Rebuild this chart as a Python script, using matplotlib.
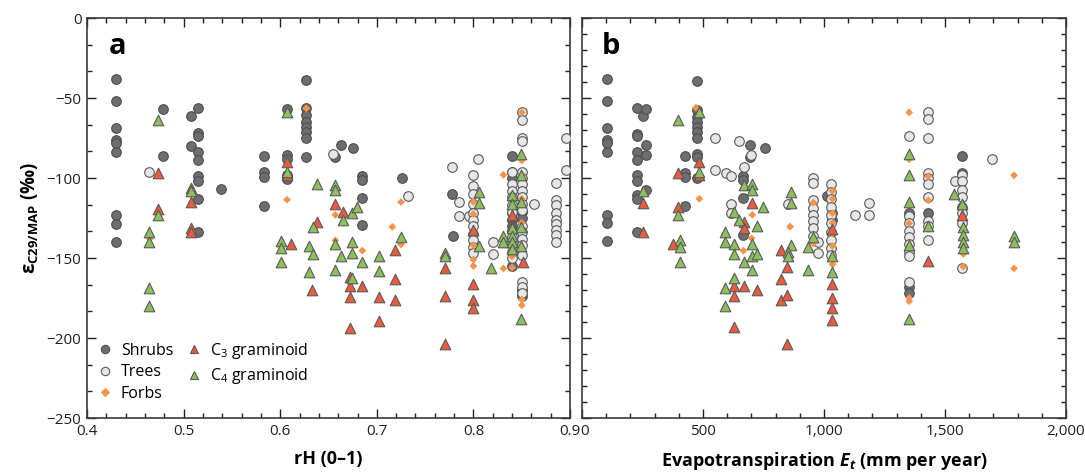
import matplotlib.pyplot as plt
import numpy as np
from matplotlib.ticker import MultipleLocator, FuncFormatter
from matplotlib.lines import Line2D

# fonte parecida com a do artigo
plt.rcParams['font.family'] = ['Open Sans', 'DejaVu Sans']
plt.rcParams['mathtext.fontset'] = 'custom'
plt.rcParams['mathtext.rm'] = 'Open Sans'
plt.rcParams['mathtext.bf'] = 'Open Sans:bold'
plt.rcParams['mathtext.it'] = 'Open Sans:bold:italic'
plt.rcParams['mathtext.default'] = 'regular'

# ---- dados do painel a: (rH, [epsilon ...]) ----
shrubs_a = [(0.43, [-38, -52, -69, -76, -78, -84, -123, -129, -140]),
            (0.479, [-57, -86]), (0.508, [-61, -80]),
            (0.515, [-56.5, -72, -74, -84, -89, -98.5, -102, -113, -134]),
            (0.539, [-107]), (0.583, [-86, -96, -99.6, -117.5]),
            (0.607, [-57, -85.6, -88, -98, -100.6]),
            (0.627, [-39, -56.5, -60.6, -64.8, -68, -71, -75, -87]),
            (0.657, [-87]), (0.663, [-79.6]), (0.675, [-81]),
            (0.685, [-98.5, -101, -112.5, -129.6]), (0.726, [-100]),
            (0.778, [-110]), (0.779, [-136]),
            (0.84, [-86, -96, -100, -122, -126, -130, -155]),
            (0.85, [-121, -125, -170, -174])]
trees_a = [(0.464, [-96]), (0.655, [-85]), (0.732, [-111]), (0.778, [-93]),
           (0.785, [-115, -123.5]), (0.795, [-123.5]), (0.805, [-88]),
           (0.80, [-98, -105, -110, -116, -122, -126, -130, -135, -139, -143, -147]),
           (0.82, [-140, -147.5]),
           (0.84, [-96, -104, -108, -112, -117, -121, -133, -137, -141, -146, -150]),
           (0.85, [-59, -63.5, -75, -77, -96, -100, -104, -108, -112, -116, -120,
                   -130, -134, -138, -142, -148, -165, -168, -172]),
           (0.863, [-116.5]),
           (0.885, [-103, -114, -117, -122, -126, -129, -132.5, -135.6, -140]),
           (0.896, [-75, -95])]
forbs_a = [(0.465, [-138]), (0.607, [-113.5]), (0.627, [-56.5]), (0.657, [-123, -139]),
           (0.685, [-145.4]), (0.716, [-130.5]), (0.725, [-115, -141.5]),
           (0.80, [-115, -122.5, -133.5, -142, -151, -155]), (0.831, [-98, -156.5]),
           (0.84, [-156, -149]), (0.85, [-59, -89, -98, -113, -128, -176, -179.5])]
c3_a = [(0.473, [-96.7, -119.4]), (0.508, [-106.5, -114.8, -131, -134]),
        (0.607, [-90, -98]), (0.611, [-141]), (0.633, [-170]), (0.638, [-127.3]),
        (0.657, [-116]), (0.665, [-121.5]), (0.672, [-161.7, -167.5, -174.6, -193.5]),
        (0.685, [-167.5]), (0.702, [-174.6, -189.4]), (0.719, [-145, -163.3, -176]),
        (0.771, [-156.5, -173.5, -204]), (0.80, [-132.5, -166, -176, -181.5]),
        (0.84, [-123, -130]), (0.851, [-152.3])]
c4_a = [(0.464, [-134, -139.8, -168.5, -180]), (0.473, [-64, -123]), (0.508, [-108]),
        (0.601, [-139.4, -143.5, -152.3]), (0.607, [-58.5, -96]), (0.63, [-142.3, -158.5]),
        (0.634, [-147.5, -130.4]), (0.638, [-103.7]), (0.657, [-104.4, -107.5, -141, -157.5]),
        (0.663, [-148.8]), (0.665, [-126]), (0.674, [-121.7, -139.8, -147, -162.7]),
        (0.679, [-118]), (0.685, [-152.3]), (0.702, [-149, -158]), (0.725, [-136.7]),
        (0.771, [-146.6, -149]), (0.806, [-108.5, -115.4, -142.5]), (0.818, [-156.5]),
        (0.831, [-136, -140]), (0.84, [-110.6, -116, -131.5, -136, -140, -144.6]),
        (0.849, [-85, -98, -114.8, -130.4, -142.5, -188.3])]

# ---- dados do painel b: (Et mm/ano, [epsilon ...]) ----
shrubs_b = [(102, [-38, -52, -69, -76, -78, -84, -123, -128, -139.5]),
            (228, [-56, -72.5, -74, -84, -89, -98, -102, -110.6, -113, -133.5]),
            (253, [-61]), (263, [-57, -79.4, -85.6, -107.5]),
            (427, [-86, -97, -99.6, -117.3]),
            (474, [-39.4, -57.5, -61.7, -64.8, -68, -71, -75, -85.2, -87, -100]),
            (667, [-98.5, -101, -112.5, -135.6]), (694, [-79.4, -86.7]), (757, [-81]),
            (1011, [-111]), (1031, [-122, -126]), (1352, [-122, -168, -172]),
            (1431, [-122]), (1569, [-86, -96.7])]
trees_b = [(550, [-75, -95]), (594, [-96.7]), (616, [-98.5, -116.5, -121.6]), (650, [-77]),
           (669, [-93.3]), (698, [-85.6]), (853, [-116.5]),
           (956, [-100, -103, -114, -119, -123, -127, -131, -136]), (976, [-140, -147]),
           (1027, [-104, -109, -113, -118, -123, -128, -134, -139, -144, -148]),
           (1128, [-123]), (1187, [-115.4, -123]),
           (1352, [-74, -124, -128, -133, -137, -141, -146, -149, -165]),
           (1431, [-59, -63.3, -75, -97, -100, -104, -111.7, -127, -130, -139]),
           (1543, [-102]), (1569, [-98, -102, -107.5, -111.7, -118, -122, -128.3, -156.5]),
           (1693, [-88])]
forbs_b = [(471, [-56]), (485, [-113]), (667, [-145.4]), (701, [-137.7]), (704, [-123]),
           (860, [-130.4]), (956, [-115.4, -141]),
           (1035, [-108, -113, -122, -128, -134.6, -142.5, -154]),
           (1352, [-59, -88.3, -128.3, -175, -177]), (1431, [-99, -114]),
           (1576, [-147.5, -155.4]), (1785, [-98.3, -156.5])]
c3_b = [(253, [-115.4, -133.5]), (377, [-141]), (395, [-97, -118.3]), (485, [-90, -98]),
        (628, [-167.5, -174, -193]), (669, [-127.3, -131, -167.5]), (701, [-115.8]),
        (722, [-170]), (822, [-145, -163.3, -176]), (846, [-155.4, -173, -204]),
        (1031, [-132, -166, -175, -181, -189]), (1431, [-152]), (1569, [-123])]
c4_b = [(253, [-108]), (395, [-63.7, -123]), (405, [-139, -143.3, -152.3]), (485, [-58.5, -96]),
        (591, [-134, -139.8, -168.5, -180]), (628, [-121, -141, -147.5, -162.7]), (649, [-126]),
        (669, [-104.4, -152.3]), (701, [-103.7, -107.5, -141, -149, -157.5]),
        (722, [-130, -147.5]), (749, [-118]), (862, [-108.5, -115.4, -142]), (853, [-146, -149]),
        (935, [-157.5, -143]), (956, [-136.7]), (1031, [-149, -158.5]),
        (1352, [-85.2, -98, -114.8, -142, -188.3]), (1431, [-130]), (1537, [-110]),
        (1569, [-116]), (1576, [-130.4, -135.6, -139.8, -144]), (1785, [-136, -140])]

# estilos
estilos = {
    'Shrubs': dict(marker='o', s=48, c='#6d6e71', edgecolors='#4d4d4f', linewidths=0.8),
    'Trees': dict(marker='o', s=48, c='#e6e7e8', edgecolors='#58595b', linewidths=0.8),
    'Forbs': dict(marker='D', s=16, c='#f7944b', edgecolors='none', linewidths=0),
    'C3': dict(marker='^', s=58, c='#ef5a3c', edgecolors='#58595b', linewidths=0.8),
    'C4': dict(marker='^', s=58, c='#8dc05a', edgecolors='#58595b', linewidths=0.8),
}


def expande(colunas):
    x, y = [], []
    for xv, ys in colunas:
        x += [xv] * len(ys)
        y += ys
    return np.array(x), np.array(y)


def desenha(ax, grupos):
    for nome, col in grupos:
        x, y = expande(col)
        ax.scatter(x, y, zorder=3, **estilos[nome])


def eixos(ax):
    ax.set_ylim(-250, 0)
    ax.tick_params(which='both', direction='in', top=True, right=True,
                   labelsize=11, colors='#231f20', width=1, pad=4)
    ax.tick_params(which='major', length=6.5)
    ax.tick_params(which='minor', length=3.3)
    for sp in ax.spines.values():
        sp.set_linewidth(1.2)
        sp.set_color('#3a3a3a')


fig = plt.figure(figsize=(10.85, 4.74), dpi=100)
ax1 = fig.add_axes([0.0802, 0.1181, 0.4452, 0.8439])
ax2 = fig.add_axes([0.5364, 0.1181, 0.4461, 0.8439])

# painel a
desenha(ax1, [('Shrubs', shrubs_a), ('Trees', trees_a), ('Forbs', forbs_a),
              ('C3', c3_a), ('C4', c4_a)])
eixos(ax1)
ax1.set_xlim(0.4, 0.9)
ax1.xaxis.set_major_locator(MultipleLocator(0.1))
ax1.xaxis.set_minor_locator(MultipleLocator(0.02))
ax1.yaxis.set_major_locator(MultipleLocator(50))
ax1.yaxis.set_minor_locator(MultipleLocator(50 / 3))
ax1.xaxis.set_major_formatter(FuncFormatter(lambda v, p: f'{v:.1f}'))
ax1.set_xlabel('rH (0–1)', fontsize=13, fontweight='bold', labelpad=8)
ax1.set_ylabel(r'ε$_{\mathbf{C29/MAP}}$ (‰)', fontsize=13.5, fontweight='bold', labelpad=4)
ax1.text(0.045, 0.93, 'a', transform=ax1.transAxes, fontsize=21, fontweight='bold',
         va='center', ha='left')

# painel b
desenha(ax2, [('Shrubs', shrubs_b), ('Trees', trees_b), ('Forbs', forbs_b),
              ('C3', c3_b), ('C4', c4_b)])
eixos(ax2)
ax2.set_xlim(0, 2000)
ax2.xaxis.set_major_locator(MultipleLocator(500))
ax2.xaxis.set_minor_locator(MultipleLocator(100))
ax2.yaxis.set_major_locator(MultipleLocator(50))
ax2.yaxis.set_minor_locator(MultipleLocator(10))
ax2.xaxis.set_major_formatter(FuncFormatter(lambda v, p: f'{int(v):,}'))
ax2.tick_params(labelleft=False)
# afasta um pouco o "0" do "0.9" do painel a
ax2.get_xticklabels()
ax2.set_xlabel(r'Evapotranspiration $\mathit{E}_{\mathit{t}}$ (mm per year)', fontsize=13,
               fontweight='bold', labelpad=8)
ax2.text(0.04, 0.93, 'b', transform=ax2.transAxes, fontsize=21, fontweight='bold',
         va='center', ha='left')

# legenda
rotulos = [('Shrubs', 'Shrubs'), ('Trees', 'Trees'), ('Forbs', 'Forbs'),
           ('C3', 'C$_3$ graminoid'), ('C4', 'C$_4$ graminoid')]
handles = []
for nome, rot in rotulos:
    st = estilos[nome]
    handles.append(Line2D([], [], ls='none', marker=st['marker'],
                          markersize=6 if nome != 'Forbs' else 4,
                          markerfacecolor=st['c'],
                          markeredgecolor=st['edgecolors'] if st['edgecolors'] != 'none' else st['c'],
                          markeredgewidth=0.8, label=rot))
ax1.legend(handles=handles, ncol=2, loc='lower left', bbox_to_anchor=(0.02, 0.04),
           frameon=False, fontsize=11.5, handlelength=1.0, handletextpad=0.5,
           columnspacing=0.8, labelspacing=0.35, borderaxespad=0, borderpad=0)

fig.canvas.draw()
# desloca o rotulo "0" do painel b um pouco para a direita (como no original)
import matplotlib.transforms as mtransforms
lab0 = ax2.get_xticklabels()[0]
for t in ax2.get_xticklabels():
    if t.get_text() == '0':
        t.set_transform(t.get_transform() + mtransforms.ScaledTranslation(3 / 100, 0, fig.dpi_scale_trans))

fig.savefig('out.png', dpi=100)
